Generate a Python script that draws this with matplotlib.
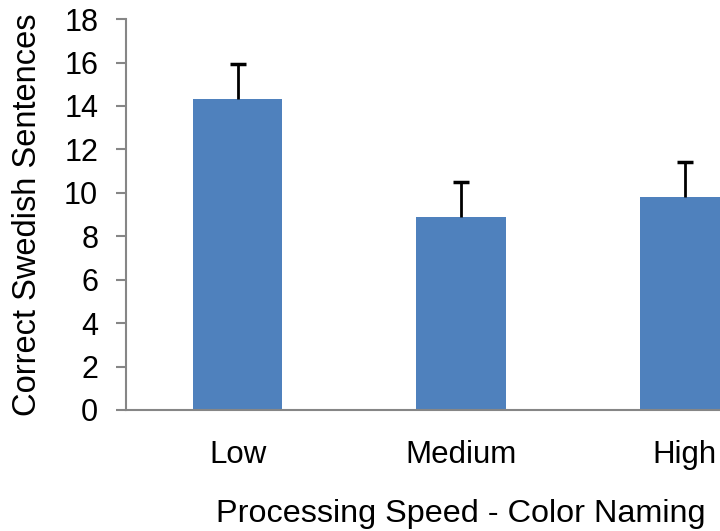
import numpy as np
import matplotlib
matplotlib.use('Agg')
import matplotlib.pyplot as plt

plt.rcParams['font.family'] = ['Liberation Sans', 'DejaVu Sans']

# Data
categories = ['Low', 'Medium', 'High']
means = [14.3, 8.87, 9.82]
err_upper = [1.62, 1.61, 1.60]
y_ticks = [0, 2, 4, 6, 8, 10, 12, 14, 16, 18]

fig = plt.figure(figsize=(7.2, 5.31), dpi=100)
# axes runs past the right edge, like the cropped original
ax = fig.add_axes([0.175, 0.228, 0.931, 0.736])

x = np.arange(len(categories))
tops = np.array(means) + np.array(err_upper)
ax.bar(x, means, width=0.4, color='#4F81BD', zorder=2)
# upper-only error bars: stem plus a cap at the top
ax.errorbar(x, means, yerr=[np.zeros(len(means)), err_upper], fmt='none',
            ecolor='black', elinewidth=2, capsize=0, zorder=3)
ax.plot(x, tops, linestyle='none', marker='_', markersize=12,
        markeredgewidth=2.5, color='black', zorder=3)

ax.set_xlim(-0.5, 2.5)
ax.set_ylim(0, 18)
ax.set_yticks(y_ticks)
ax.set_xticks(x)
ax.set_xticklabels(categories)

for side in ['top', 'right']:
    ax.spines[side].set_visible(False)
for side in ['left', 'bottom']:
    ax.spines[side].set_color('#868686')
    ax.spines[side].set_linewidth(1.5)

ax.tick_params(axis='y', length=7, width=1.5, color='#868686', labelsize=22, pad=13)
ax.tick_params(axis='x', length=0, labelsize=22.5, pad=22)

ax.set_ylabel('Correct Swedish Sentences', fontsize=23.5)
ax.yaxis.set_label_coords(-0.124, 0.5)
ax.set_xlabel('Processing Speed - Color Naming', fontsize=23.3)
ax.xaxis.set_label_coords(0.5, -0.228)

fig.savefig('out.png', dpi=100)
